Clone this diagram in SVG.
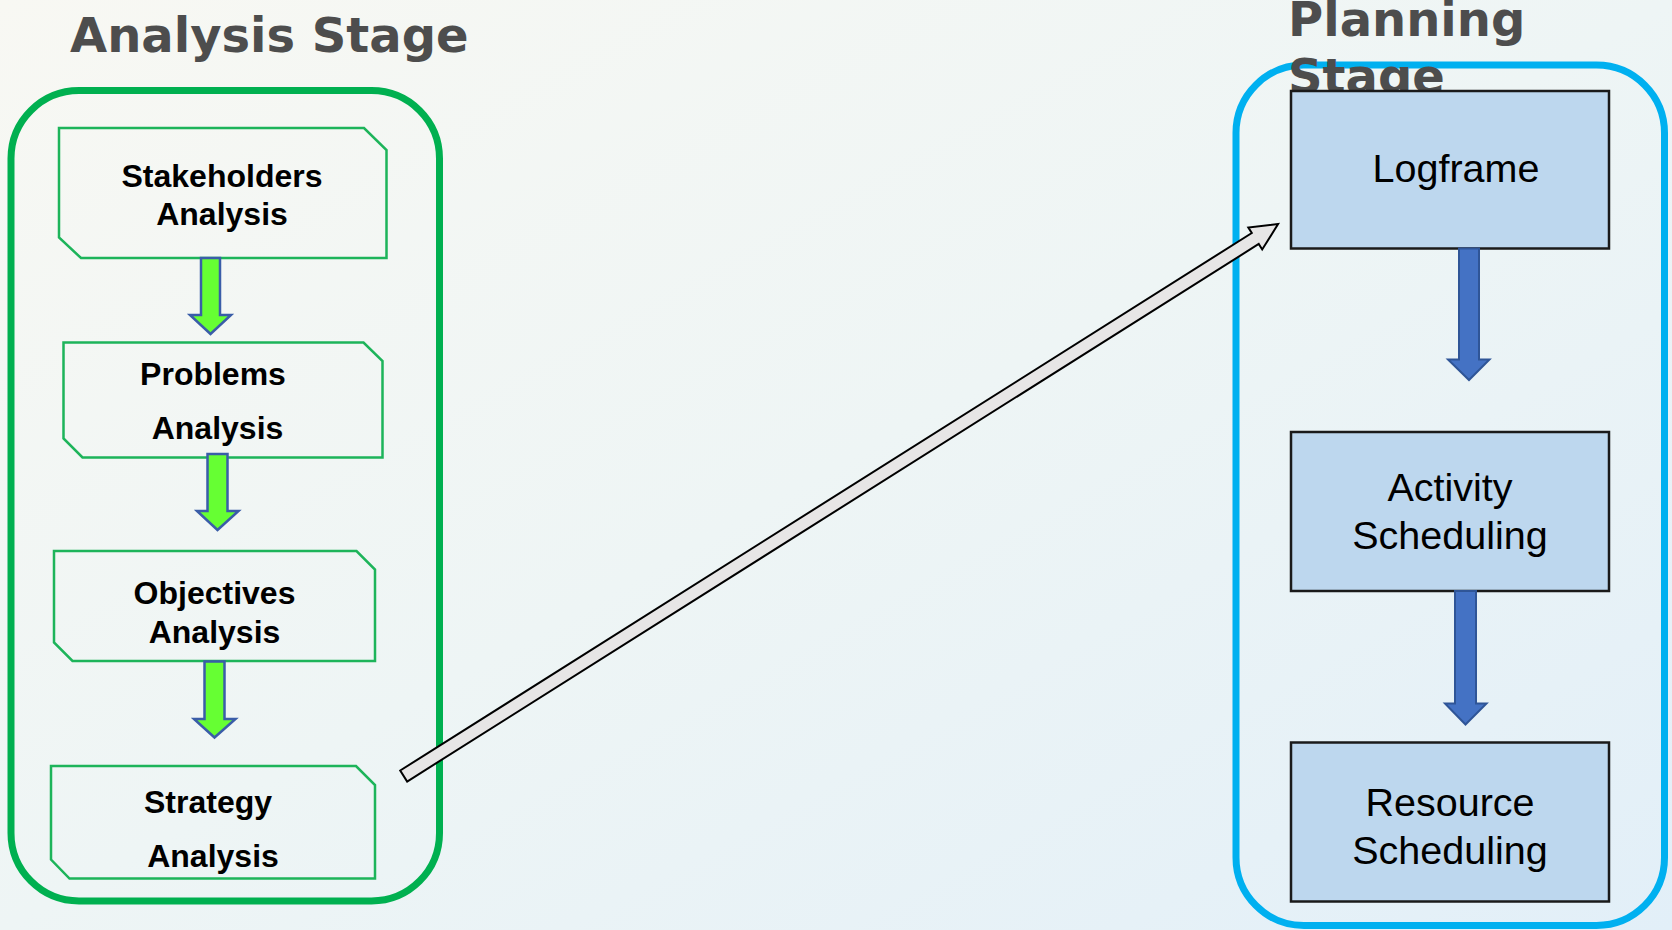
<svg xmlns="http://www.w3.org/2000/svg" width="1672" height="930" viewBox="0 0 1672 930">
  <defs>
    <linearGradient id="bg" x1="0" y1="0" x2="1" y2="1">
      <stop offset="0" stop-color="#f8f8f3"/>
      <stop offset="0.5" stop-color="#eef5f5"/>
      <stop offset="1" stop-color="#e2eff8"/>
    </linearGradient>
    <style>
      .title { font-family: "DejaVu Sans", sans-serif; font-weight: bold; font-size: 48px; fill: #4d4d4d; }
      .stage-a { fill: none; stroke: #00b050; stroke-width: 7; }
      .stage-p { fill: none; stroke: #00b0f0; stroke-width: 7; }
      .step { fill: none; stroke: #1db45a; stroke-width: 2.5; }
      .step-text { font-family: "Liberation Sans", Arial, sans-serif; font-weight: bold; font-size: 32px; fill: #000; text-anchor: middle; }
      .plan { fill: #bdd7ee; stroke: #1a1a1a; stroke-width: 2.5; }
      .plan-text { font-family: "Liberation Sans", Arial, sans-serif; font-size: 39.5px; fill: #000; text-anchor: middle; }
      .down-green { fill: #66ff33; stroke: #3a5da8; stroke-width: 2.5; stroke-linejoin: miter; }
      .down-blue { fill: #4472c4; stroke: #2f5597; stroke-width: 2; }
      .link { fill: #e7e6e6; stroke: #000; stroke-width: 2; stroke-linejoin: miter; }
    </style>
  </defs>

  <rect width="1672" height="930" fill="url(#bg)"/>

  <!-- Stage containers and titles -->
  <g id="analysis-stage">
    <rect class="stage-a" x="11" y="90.5" width="428.5" height="810.5" rx="68" ry="68"/>
    <text class="title" x="70" y="52">Analysis Stage</text>
  </g>
  <g id="planning-stage">
    <rect class="stage-p" x="1236" y="65" width="428.5" height="860.5" rx="68" ry="68"/>
    <text class="title" x="1288" y="36">Planning</text>
    <text class="title" x="1288" y="92.5">Stage</text>
  </g>

  <!-- Analysis steps -->
  <g id="stakeholders">
    <path class="step" d="M59,128 L364,128 L386.5,150 L386.5,258 L81,258 L59,237.5 Z"/>
    <text class="step-text" x="222" y="186.5">Stakeholders</text>
    <text class="step-text" x="222" y="225">Analysis</text>
  </g>
  <g id="problems">
    <path class="step" d="M63.5,342.5 L363.5,342.5 L382.5,361 L382.5,457.5 L82.5,457.5 L63.5,438.5 Z"/>
    <text class="step-text" x="213" y="385">Problems</text>
    <text class="step-text" x="217.5" y="438.5">Analysis</text>
  </g>
  <g id="objectives">
    <path class="step" d="M54,551 L356.5,551 L375,569.5 L375,661 L72.5,661 L54,642.5 Z"/>
    <text class="step-text" x="214.5" y="603.5">Objectives</text>
    <text class="step-text" x="214.5" y="642.5">Analysis</text>
  </g>
  <g id="strategy">
    <path class="step" d="M51,766 L356,766 L375,785 L375,878.5 L69.5,878.5 L51,859.5 Z"/>
    <text class="step-text" x="208" y="812.5">Strategy</text>
    <text class="step-text" x="213" y="866.5">Analysis</text>
  </g>

  <!-- Planning steps -->
  <g id="logframe">
    <rect class="plan" x="1291" y="91" width="318" height="157.5"/>
    <text class="plan-text" x="1456" y="181.5">Logframe</text>
  </g>
  <g id="activity-scheduling">
    <rect class="plan" x="1291" y="432" width="318" height="159"/>
    <text class="plan-text" x="1450" y="500.5">Activity</text>
    <text class="plan-text" x="1450" y="548.5">Scheduling</text>
  </g>
  <g id="resource-scheduling">
    <rect class="plan" x="1291" y="742.5" width="318" height="159"/>
    <text class="plan-text" x="1450" y="816">Resource</text>
    <text class="plan-text" x="1450" y="863.5">Scheduling</text>
  </g>

  <!-- Connectors -->
  <g id="connectors">
    <path class="down-green" d="M201,258 L220,258 L220,315 L231,315 L210.5,334 L190,315 L201,315 Z"/>
    <path class="down-green" d="M207.5,454 L227.5,454 L227.5,511 L238.5,511 L217.5,530 L197,511 L207.5,511 Z"/>
    <path class="down-green" d="M204.5,661.5 L224.5,661.5 L224.5,719 L235.5,719 L214.5,737.5 L194,719 L204.5,719 Z"/>
    <path class="down-blue" d="M1459,248.5 L1479,248.5 L1479,359.5 L1489.5,359.5 L1469,380 L1448,359.5 L1459,359.5 Z"/>
    <path class="down-blue" d="M1455,591 L1476,591 L1476,703.5 L1486.5,703.5 L1465.5,724.5 L1445,703.5 L1455,703.5 Z"/>
    <path class="link" transform="translate(403.7,776) rotate(-32.26)" d="M0,-6.5 L1007,-6.5 L1007,-13 L1034,0 L1007,13 L1007,6.5 L0,6.5 Z"/>
  </g>
</svg>
